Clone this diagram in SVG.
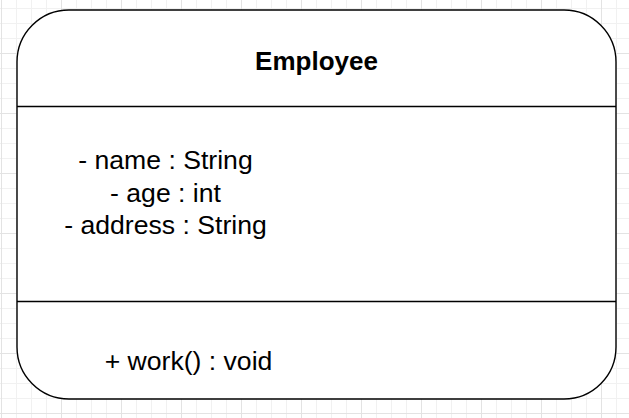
<svg xmlns="http://www.w3.org/2000/svg" width="629" height="418" viewBox="0 0 629 418">
  <defs>
    <pattern id="gridMinor" width="15" height="15" patternUnits="userSpaceOnUse" x="1" y="8">
      <path d="M 0 0.5 H 15 M 0.5 0 V 15" fill="none" stroke="#f1f1f1" stroke-width="1"/>
    </pattern>
    <pattern id="gridMajor" width="60" height="60" patternUnits="userSpaceOnUse" x="1" y="53">
      <path d="M 0 0.5 H 60 M 0.5 0 V 60" fill="none" stroke="#e3e3e3" stroke-width="1"/>
    </pattern>
    <style>
      .box { fill: #ffffff; stroke: #000000; stroke-width: 1.4; }
      .divider { stroke: #000000; stroke-width: 1.3; }
      .title { font-family: "Liberation Sans", Arial, sans-serif; font-size: 26px; font-weight: bold; fill: #000000; text-anchor: middle; }
      .member { font-family: "Liberation Sans", Arial, sans-serif; font-size: 26.6px; fill: #000000; text-anchor: middle; }
    </style>
  </defs>

  <!-- canvas grid -->
  <rect width="629" height="418" fill="#ffffff"/>
  <rect width="629" height="418" fill="url(#gridMinor)"/>
  <rect width="629" height="418" fill="url(#gridMajor)"/>

  <!-- class box: Employee -->
  <g id="employee">
    <rect class="box" x="17" y="10" width="599" height="389" rx="52" ry="52"/>
    <line class="divider" x1="17" y1="106.5" x2="616" y2="106.5"/>
    <line class="divider" x1="17" y1="301.5" x2="616" y2="301.5"/>
    <text class="title" x="316.5" y="70">Employee</text>
    <text class="member" x="165.5" y="169">- name : String</text>
    <text class="member" x="165.5" y="201.5">- age : int</text>
    <text class="member" x="165.5" y="234">- address : String</text>
    <text class="member" x="188.5" y="370">+ work() : void</text>
  </g>

  <!-- connectors -->
  <g id="connectors"/>
</svg>
